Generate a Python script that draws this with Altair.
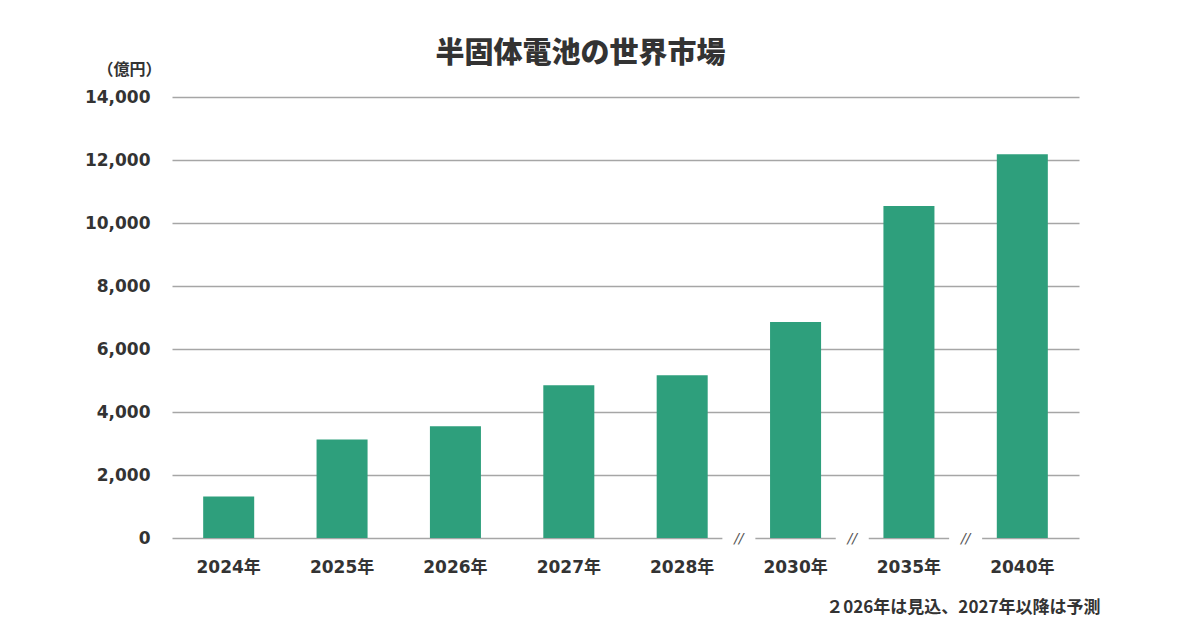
import altair as alt
import pandas as pd

years = ["2024年", "2025年", "2026年", "2027年", "2028年", "2030年", "2035年", "2040年"]
values = [1320, 3130, 3550, 4850, 5165, 6860, 10540, 12180]
break_before = ["2030年", "2035年", "2040年"]
y_ticks = [0, 2000, 4000, 6000, 8000, 10000, 12000, 14000]

FONT = "DejaVu Sans, Noto Sans CJK JP"
CJK = "Noto Sans CJK JP"
BAR = "#2e9f7c"
TXT = "#333333"

df = pd.DataFrame({"year": years, "value": values})
brk = pd.DataFrame({"year": break_before, "value": [0] * len(break_before), "mark": ["//"] * len(break_before)})

x_enc = alt.X(
    "year:N",
    sort=years,
    scale=alt.Scale(paddingInner=0, paddingOuter=0),
    axis=alt.Axis(
        title="２026年は見込、2027年以降は予測",
        titleFont=CJK,
        titleAnchor="end",
        titleAlign="right",
        titleBaseline="middle",
        titleX=1100 - 172,
        titleY=69,
        titleFontSize=17,
        titleFontWeight="bold",
        titleColor=TXT,
        labelAngle=0,
        labelFont=FONT,
        labelFontSize=17,
        labelFontWeight="bold",
        labelColor=TXT,
        labelPadding=21,
        ticks=False,
        domain=False,
    ),
)
y_enc = alt.Y(
    "value:Q",
    scale=alt.Scale(domain=[0, 14000]),
    axis=alt.Axis(
        values=y_ticks,
        format=",.0f",
        title="（億円）",
        titleFont=CJK,
        titleAngle=0,
        titleAlign="center",
        titleBaseline="middle",
        titleX=-43,
        titleY=-28,
        titleFontSize=16,
        titleFontWeight="bold",
        titleColor=TXT,
        labelFont=FONT,
        labelFontSize=17,
        labelFontWeight="bold",
        labelColor=TXT,
        labelPadding=22,
        ticks=False,
        domain=False,
        grid=True,
        gridColor="#a6a6a6",
        gridWidth=1.5,
    ),
)

bars = alt.Chart(df).mark_bar(width=alt.RelativeBandSize(0.45), color=BAR).encode(x=x_enc, y=y_enc)

brk_x = alt.X("year:N", sort=years, bandPosition=0)
cover = alt.Chart(brk).mark_point(
    shape="M-1,-0.15L1,-0.15L1,0.15L-1,0.15Z",
    filled=True,
    color="white",
    opacity=1,
    size=1089,
    strokeWidth=0,
).encode(x=brk_x, y=alt.Y("value:Q"))
slashes = alt.Chart(brk).mark_text(
    fontSize=14, color="#555555", dy=1, font="DejaVu Sans", fontStyle="italic"
).encode(x=brk_x, y=alt.Y("value:Q"), text="mark:N")

chart = (
    alt.layer(bars, cover, slashes)
    .properties(
        width=907,
        height=441,
        title=alt.TitleParams(
            "半固体電池の世界市場",
            font=CJK,
            fontSize=29,
            fontWeight=900,
            color=TXT,
            anchor="middle",
            frame="group",
            dx=-45,
            offset=-8,
        ),
        autosize=alt.AutoSizeParams(type="none"),
        padding={"left": 164, "top": 89, "right": 113, "bottom": 82},
    )
    .configure(font=FONT)
    .configure_view(stroke=None)
)

chart.save("out.html", embed_options={"renderer": "svg", "actions": False})
